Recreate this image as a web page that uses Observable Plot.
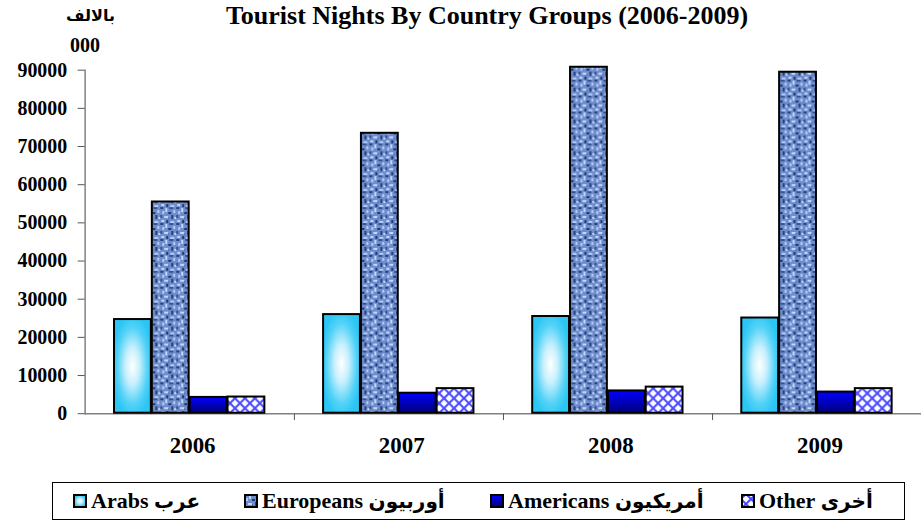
<!DOCTYPE html>
<html>
<head>
<meta charset="utf-8">
<script src="https://cdn.jsdelivr.net/npm/d3@7"></script>
<script src="https://cdn.jsdelivr.net/npm/@observablehq/plot@0.6"></script>
<style>
  html, body { margin: 0; padding: 0; background: #fff; overflow: hidden; }
  #wrap { position: relative; width: 922px; height: 520px; overflow: hidden;
          font-family: "Liberation Serif", "DejaVu Sans", serif; font-weight: bold; color: #000; }
  #chart { position: absolute; left: 0; top: 0; }
  .abs { position: absolute; white-space: nowrap; line-height: 1; }
  #title { left: 52px; width: 870px; text-align: center; top: 1px; font-size: 26px; line-height: 1.15; }
  #unit1 { left: 66px; top: 8px; font-size: 16px; font-family: "DejaVu Sans", sans-serif; }
  #unit2 { left: 70px; top: 35px; font-size: 20px; }
  #legend { left: 52px; top: 482px; width: 853px; height: 38px; border: 1px solid #000; box-sizing: border-box; }
  .item { position: absolute; top: 5px; font-size: 22px; display: flex; align-items: center; line-height: 1.2; }
  .item svg { margin-right: 4px; }
  .ar { font-family: "DejaVu Sans", sans-serif; font-size: 20px; }
</style>
</head>
<body>
<svg width="0" height="0" style="position:absolute">
  <defs>
    <radialGradient id="gArabs" cx="0.5" cy="0.5" r="0.55">
      <stop offset="0" stop-color="#ffffff"/>
      <stop offset="0.35" stop-color="#c8f0fd"/>
      <stop offset="0.75" stop-color="#52d2f7"/>
      <stop offset="1" stop-color="#2cc6f4"/>
    </radialGradient>
    <linearGradient id="gAmericans" x1="0" y1="0" x2="0" y2="1">
      <stop offset="0" stop-color="#0000ff"/>
      <stop offset="1" stop-color="#00007a"/>
    </linearGradient>
    <pattern id="pEuro" width="16" height="16" patternUnits="userSpaceOnUse">
      <rect width="16" height="16" fill="#6f8dcc"/>
      <rect x="0" y="0" width="3" height="2" fill="#25437f"/>
      <rect x="5" y="1" width="2" height="4" fill="#c4d6f7"/>
      <rect x="9" y="0" width="4" height="2" fill="#34558f"/>
      <rect x="13" y="3" width="2" height="3" fill="#b6cbf3"/>
      <rect x="2" y="4" width="2" height="3" fill="#b6cbf3"/>
      <rect x="8" y="5" width="3" height="2" fill="#1f3b75"/>
      <rect x="0" y="8" width="2" height="3" fill="#34558f"/>
      <rect x="4" y="9" width="4" height="2" fill="#c4d6f7"/>
      <rect x="11" y="8" width="2" height="4" fill="#25437f"/>
      <rect x="14" y="10" width="2" height="2" fill="#c4d6f7"/>
      <rect x="1" y="13" width="3" height="2" fill="#c4d6f7"/>
      <rect x="6" y="13" width="2" height="3" fill="#1f3b75"/>
      <rect x="10" y="14" width="4" height="2" fill="#b6cbf3"/>
      <rect x="8" y="10" width="1" height="2" fill="#4a69ab"/>
    </pattern>
    <pattern id="pOther" width="10" height="10" patternUnits="userSpaceOnUse">
      <rect width="10" height="10" fill="#ffffff"/>
      <path d="M0 5 L5 0 M5 10 L10 5 M5 0 L10 5 M0 5 L5 10" stroke="#4a4aff" stroke-width="2" fill="none"/>
    </pattern>
  </defs>
</svg>
<div id="wrap">
  <div id="chart"></div>
  <div class="abs" id="title">Tourist Nights By Country Groups (2006-2009)</div>
  <div class="abs" id="unit1">بالالف</div>
  <div class="abs" id="unit2">000</div>
  <div class="abs" id="legend"></div>
</div>
<script>
const years = ["2006", "2007", "2008", "2009"];
const seriesKeys = ["Arabs", "Europeans", "Americans", "Other"];
const seriesEn = ["Arabs", "Europeans", "Americans", "Other"];
const seriesAr = ["عرب", "أوربيون", "أمريكيون", "أخرى"];
const arabs = [24800, 26100, 25600, 25200];
const europeans = [55600, 73600, 90900, 89600];
const americans = [4400, 5500, 6100, 5800];
const other = [4500, 6700, 7100, 6700];
const yTicks = [0, 10000, 20000, 30000, 40000, 50000, 60000, 70000, 80000, 90000];

const fills = ["url(#gArabs)", "url(#pEuro)", "url(#gAmericans)", "url(#pOther)"];
const valuesBySeries = [arabs, europeans, americans, other];

const data = [];
years.forEach((yr, i) => {
  seriesKeys.forEach((s, j) => {
    data.push({year: yr, series: s, value: valuesBySeries[j][i], fill: fills[j]});
  });
});

const W = 926, ML = 84, MR = 0;
const outerPad = 0.75;
const step = (W - ML - MR) / years.length / (seriesKeys.length + 2 * outerPad);

const plot = Plot.plot({
  width: W,
  height: 470,
  marginLeft: ML,
  marginRight: MR,
  marginTop: 70,
  marginBottom: 55,
  style: {fontFamily: "'Liberation Serif', serif", fontWeight: "bold", fontSize: "20px", color: "#000", background: "transparent"},
  fx: {domain: years, padding: 0, label: null},
  x: {domain: seriesKeys, paddingInner: 0, paddingOuter: outerPad, axis: null},
  y: {domain: [0, 90000], label: null},
  color: {type: "identity"},
  marks: [
    Plot.frame({anchor: "left", stroke: "#808080", strokeWidth: 1.5, facetAnchor: "left"}),
    Plot.ruleY([0], {stroke: "#808080", strokeWidth: 1.5}),
    Plot.ruleX(years.slice(1), {fx: d => d, x: () => seriesKeys[0], y1: 0, y2: -1800, dx: -(0.5 + outerPad) * step, stroke: "#555"}),
    Plot.barY(data, {fx: "year", x: "series", y: "value", fill: "fill", stroke: "#000", strokeWidth: 2, inset: 0.5}),
    Plot.axisY({ticks: yTicks, tickFormat: d => String(d), tickSize: 7, tickPadding: 11, stroke: "#555", label: null}),
    Plot.axisFx({anchor: "bottom", tickSize: 0, tickPadding: 23, label: null, fontSize: 23, dx: 3})
  ]
});
document.getElementById("chart").appendChild(plot);

// legend
const legend = d3.select("#legend");
const legendLeft = [20, 191, 437, 688];
seriesKeys.forEach((s, j) => {
  const item = legend.append("div").attr("class", "item").style("left", legendLeft[j] + "px");
  const sw = item.append("svg").attr("width", 14).attr("height", 14);
  sw.append("rect").attr("x", 1).attr("y", 1).attr("width", 12).attr("height", 12)
    .attr("fill", fills[j]).attr("stroke", "#000").attr("stroke-width", 2);
  item.append("span").text(seriesEn[j] + "\u00a0");
  item.append("span").attr("class", "ar").text(seriesAr[j]);
});
</script>
</body>
</html>
